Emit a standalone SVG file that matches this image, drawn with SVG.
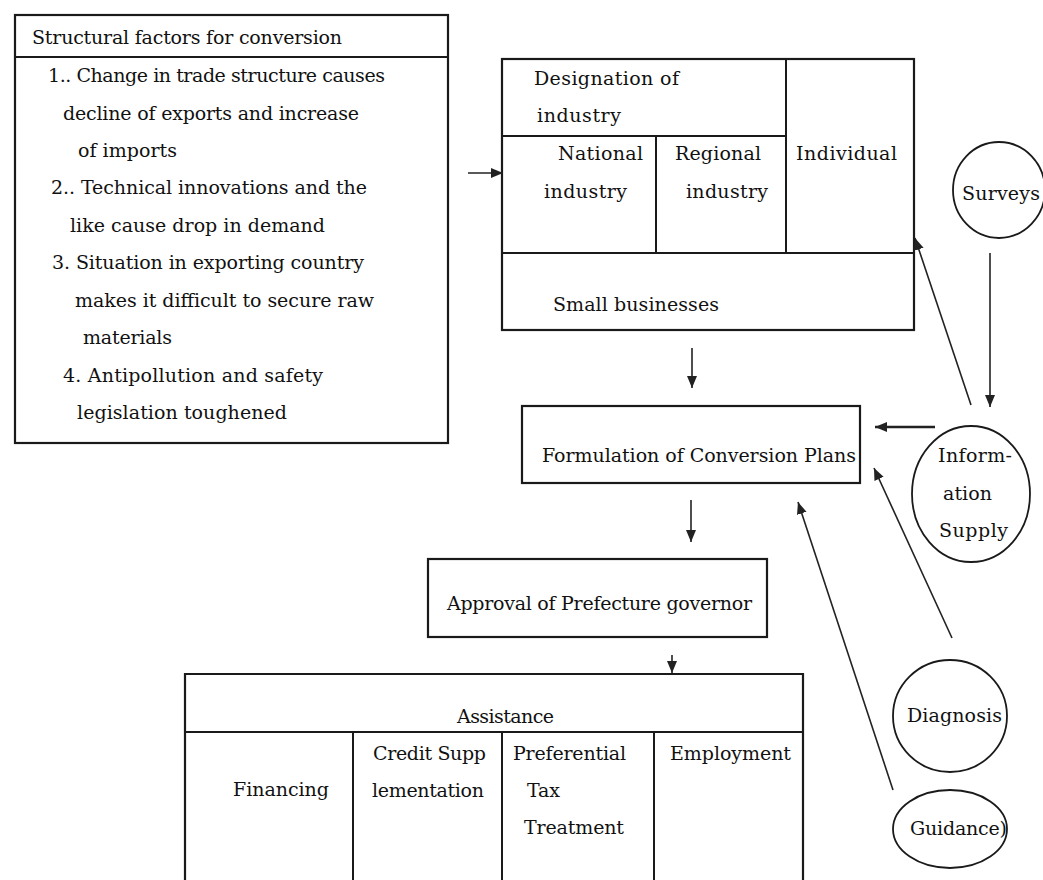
<svg xmlns="http://www.w3.org/2000/svg" width="1043" height="880" viewBox="0 0 1043 880">
<style>
.box{fill:none;stroke:#1a1a1a;stroke-width:2.2}
.div{fill:none;stroke:#1a1a1a;stroke-width:2}
.c{fill:none;stroke:#1a1a1a;stroke-width:1.8}
.t{font-family:"DejaVu Serif","Liberation Serif",serif;font-size:19px;fill:#111}
.con line{stroke:#222;stroke-width:1.6;marker-end:url(#ah)}
</style>
<defs>
<marker id="ah" markerUnits="userSpaceOnUse" markerWidth="14" markerHeight="12" refX="12" refY="5" orient="auto">
<path d="M0,0 L12,5 L0,10 z" fill="#222"/>
</marker>
</defs>
<rect width="1043" height="880" fill="#fff"/>

<g id="structural-factors">
<rect class="box" x="15" y="15" width="433" height="428"/>
<line class="div" x1="15" y1="57" x2="448" y2="57"/>
<text class="t" x="32" y="44" textLength="310">Structural factors for conversion</text>
<text class="t" x="48" y="82" textLength="337">1.. Change in trade structure causes</text>
<text class="t" x="63" y="120" textLength="296">decline of exports and increase</text>
<text class="t" x="78" y="157" textLength="99">of imports</text>
<text class="t" x="51" y="194" textLength="316">2.. Technical innovations and the</text>
<text class="t" x="70" y="232" textLength="255">like cause drop in demand</text>
<text class="t" x="52" y="269" textLength="312">3. Situation in exporting country</text>
<text class="t" x="75" y="307" textLength="299">makes it difficult to secure raw</text>
<text class="t" x="83" y="344" textLength="89">materials</text>
<text class="t" x="63" y="382" textLength="260">4. Antipollution and safety</text>
<text class="t" x="77" y="419" textLength="210">legislation toughened</text>
</g>

<g id="designation">
<rect class="box" x="502" y="59" width="412" height="271"/>
<line class="div" x1="502" y1="136" x2="786" y2="136"/>
<line class="div" x1="656" y1="136" x2="656" y2="253"/>
<line class="div" x1="786" y1="59" x2="786" y2="253"/>
<line class="div" x1="502" y1="253" x2="914" y2="253"/>
<text class="t" x="534" y="85" textLength="145">Designation of</text>
<text class="t" x="537" y="122" textLength="84">industry</text>
<text class="t" x="558" y="160" textLength="85">National</text>
<text class="t" x="544" y="198" textLength="83">industry</text>
<text class="t" x="675" y="160" textLength="86">Regional</text>
<text class="t" x="686" y="198" textLength="82">industry</text>
<text class="t" x="796" y="160" textLength="101">Individual</text>
<text class="t" x="553" y="311" textLength="166">Small businesses</text>
</g>

<g id="formulation">
<rect class="box" x="522" y="406" width="338" height="77"/>
<text class="t" x="542" y="462" textLength="314">Formulation of Conversion Plans</text>
</g>

<g id="approval">
<rect class="box" x="428" y="559" width="339" height="78"/>
<text class="t" x="447" y="610" textLength="305">Approval of Prefecture governor</text>
</g>

<g id="assistance">
<path class="box" d="M185,882 V674 H803 V882"/>
<line class="div" x1="185" y1="732" x2="803" y2="732"/>
<line class="div" x1="353" y1="732" x2="353" y2="882"/>
<line class="div" x1="502" y1="732" x2="502" y2="882"/>
<line class="div" x1="654" y1="732" x2="654" y2="882"/>
<text class="t" x="457" y="723" textLength="97">Assistance</text>
<text class="t" x="233" y="796" textLength="96">Financing</text>
<text class="t" x="373" y="760" textLength="113">Credit Supp</text>
<text class="t" x="372" y="797" textLength="112">lementation</text>
<text class="t" x="513" y="760" textLength="113">Preferential</text>
<text class="t" x="527" y="797" textLength="33">Tax</text>
<text class="t" x="524" y="834" textLength="100">Treatment</text>
<text class="t" x="670" y="760" textLength="121">Employment</text>
</g>

<g id="surveys">
<ellipse class="c" cx="999" cy="190" rx="46" ry="48"/>
<text class="t" x="962" y="200" textLength="78">Surveys</text>
</g>

<g id="information-supply">
<ellipse class="c" cx="971" cy="494" rx="59" ry="68"/>
<text class="t" x="938" y="462" textLength="74">Inform-</text>
<text class="t" x="943" y="500" textLength="49">ation</text>
<text class="t" x="939" y="537" textLength="69">Supply</text>
</g>

<g id="diagnosis">
<ellipse class="c" cx="950" cy="716" rx="57" ry="56"/>
<text class="t" x="907" y="722" textLength="95">Diagnosis</text>
</g>

<g id="guidance">
<ellipse class="c" cx="950" cy="829" rx="57" ry="39"/>
<text class="t" x="910" y="835" textLength="97">Guidance)</text>
</g>

<g id="connectors" class="con">
<line x1="468" y1="173" x2="503" y2="173"/>
<line x1="692" y1="348" x2="692" y2="388"/>
<line x1="691" y1="500" x2="691" y2="542"/>
<line x1="672" y1="655" x2="672" y2="673"/>
<line x1="990" y1="253" x2="990" y2="407"/>
<line x1="971" y1="405" x2="915" y2="238"/>
<line x1="935" y1="427" x2="875" y2="427" style="stroke-width:2.4"/>
<line x1="952" y1="638" x2="874" y2="468"/>
<line x1="893" y1="790" x2="798" y2="502"/>
</g>
</svg>
